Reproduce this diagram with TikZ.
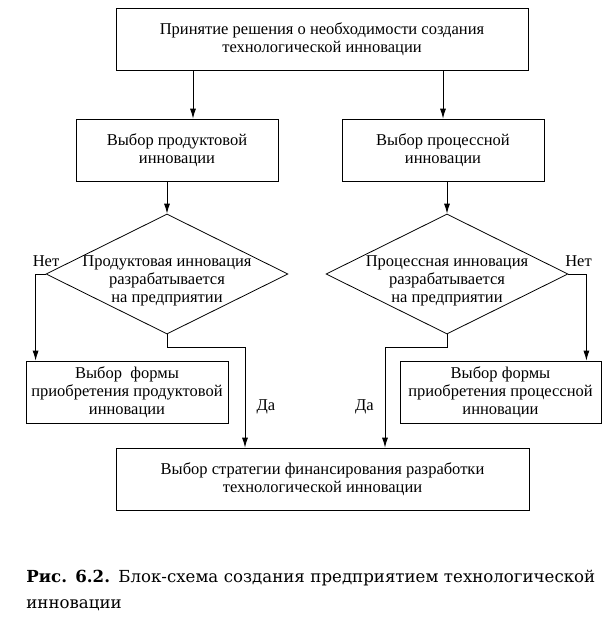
\documentclass[tikz,border=0pt]{standalone}
\usepackage{fontspec}
\setmainfont{Liberation Serif}
\newfontfamily\capfont{DejaVu Serif}
\usetikzlibrary{calc}
\usetikzlibrary{arrows.meta}
\usetikzlibrary{shapes.geometric}
\usetikzlibrary{positioning}

\tikzset{
  block/.style={draw, align=center, inner sep=0pt, minimum height=62},
  decision/.style={draw, diamond, inner sep=0pt, minimum width=242, minimum height=120},
  arr/.style={-{Latex[length=10pt,width=6pt]}},
  lbl/.style={inner sep=0pt}
}

\begin{document}
\begin{tikzpicture}[x=1pt, y=-1pt, line width=0.8pt, font=\fontsize{16.5}{18.3}\selectfont]
            \useasboundingbox (0,0) rectangle (613,622);
            % blocks
            \node[block, minimum width=412] (top)      at (322.0, 39.5) {Принятие решения о необходимости создания\\технологической инновации};
            \node[block, minimum width=202] (prod)     at (177.0,150.0) {Выбор продуктовой\\инновации};
            \node[block, minimum width=202] (proc)     at (443.0,150.0) {Выбор процессной\\инновации};
            \node[decision]                 (dprod)    at (167.0,274.0) {};
            \node[decision]                 (dproc)    at (447.0,274.0) {};
            \node[align=center, lbl]        (dprodtxt) at (167.0,281.0) {Продуктовая инновация\\разрабатывается\\на предприятии};
            \node[align=center, lbl]        (dproctxt) at (447.0,281.0) {Процессная инновация\\разрабатывается\\на предприятии};
            \node[block, minimum width=202] (formprod) at (127.0,392.0) {Выбор\ \ формы\\приобретения продуктовой\\инновации};
            \node[block, minimum width=201] (formproc) at (500.5,392.0) {Выбор формы\\приобретения процессной\\инновации};
            \node[block, minimum width=413] (fin)      at (322.5,479.0) {Выбор стратегии финансирования разработки\\технологической инновации};
            % connectors
            \coordinate (yesL) at (245,347);
            \coordinate (yesR) at (385,347);
            \draw[arr] (top.south -| 193,0) -- (prod.north -| 193,0);
            \draw[arr] (top.south -| proc.north) -- (proc.north);
            \draw[arr] (prod.south -| dprod.north) -- (dprod.north);
            \draw[arr] (proc.south -| dproc.north) -- (dproc.north);
            \draw[arr] (dprod.west) -| ([xshift=10]formprod.north west);
            \draw[arr] (dproc.east) -| ([xshift=-15]formproc.north east);
            \draw[arr] (dprod.south) |- (yesL) -- (yesL |- fin.north);
            \draw[arr] (dproc.south) |- (yesR) -- (yesR |- fin.north);
            % labels
            \node[lbl] (noL)  at ( 46.0,261.0) {Нет};
            \node[lbl] (noR)  at (578.5,261.0) {Нет};
            \node[lbl] (daL)  at (266.0,407.0) {Да};
            \node[lbl] (daR)  at (364.5,407.0) {Да};
            % caption
            \node[lbl, anchor=north west, text width=575, align=left, font=\capfont\fontsize{16.6}{26}\selectfont] (cap) at (26,570)
                 {\makebox[575pt][s]{\textbf{Рис. 6.2.} Блок-схема создания предприятием технологической}\\инновации};
\end{tikzpicture}
\end{document}
